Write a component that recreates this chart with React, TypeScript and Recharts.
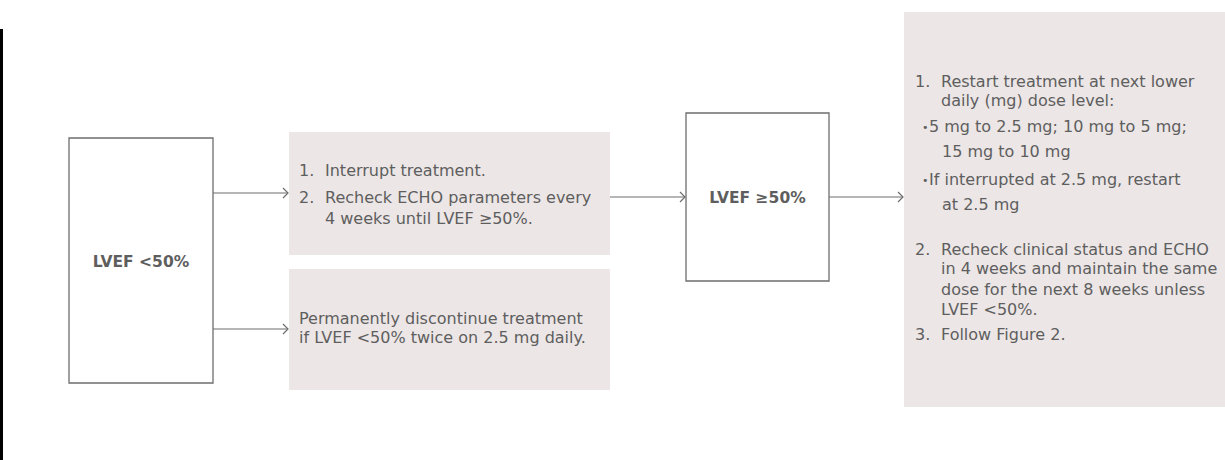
import { ComposedChart, XAxis, YAxis, ReferenceArea, ReferenceLine, Scatter } from 'recharts';

// flowchart content
const startLabel = 'LVEF <50%';
const recoverLabel = 'LVEF ≥50%';

const interruptLines = [
  { kind: 'num', label: '1.', text: 'Interrupt treatment.' },
  { kind: 'num', label: '2.', text: 'Recheck ECHO parameters every' },
  { kind: 'cont', text: '4 weeks until LVEF ≥50%.' },
];

const stopLines = [
  { kind: 'plain', text: 'Permanently discontinue treatment' },
  { kind: 'plain', text: 'if LVEF <50% twice on 2.5 mg daily.' },
];

const restartLines = [
  { kind: 'num', label: '1.', text: 'Restart treatment at next lower' },
  { kind: 'cont', text: 'daily (mg) dose level:' },
  { kind: 'bullet', text: '5 mg to 2.5 mg; 10 mg to 5 mg;' },
  { kind: 'bcont', text: '15 mg to 10 mg' },
  { kind: 'bullet', text: 'If interrupted at 2.5 mg, restart' },
  { kind: 'bcont', text: 'at 2.5 mg' },
  { kind: 'num', label: '2.', text: 'Recheck clinical status and ECHO' },
  { kind: 'cont', text: 'in 4 weeks and maintain the same' },
  { kind: 'cont', text: 'dose for the next 8 weeks unless' },
  { kind: 'cont', text: 'LVEF <50%.' },
  { kind: 'num', label: '3.', text: 'Follow Figure 2.' },
];

// layout (px in a 1225 x 460 frame)
const W = 1225;
const H = 460;
const FONT = '"DejaVu Sans", sans-serif';
const TEXT = '#5e5e5e';
const EDGE = '#6e6e6e';
const FILL = '#ece6e6';

const interruptY = [44, 71, 92];
const stopY = [55, 74];
const restartY = [75, 94, 120, 145, 173, 198, 243, 262, 283, 303, 328];

const nodes = [
  { x: 141, y: 260 },
  { x: 449, y: 193 },
  { x: 449, y: 329 },
  { x: 757, y: 197 },
  { x: 1064, y: 210 },
];

const indent = { num: 0, cont: 26, bullet: 8, bcont: 27, plain: 0 };

function ListText({ viewBox, lines, ys, left }: any) {
  const { x, y } = viewBox;
  return (
    <g fontFamily={FONT} fontSize={16} fill={TEXT}>
      {lines.map((ln: any, i: number) => {
        const bx = x + left;
        const by = y + ys[i];
        if (ln.kind === 'num') {
          return (
            <g key={i}>
              <text x={bx} y={by}>{ln.label}</text>
              <text x={bx + 26} y={by}>{ln.text}</text>
            </g>
          );
        }
        if (ln.kind === 'bullet') {
          return (
            <g key={i}>
              <text x={bx + 7} y={by - 1} fontSize={11}>•</text>
              <text x={bx + 14} y={by}>{ln.text}</text>
            </g>
          );
        }
        return <text key={i} x={bx + (indent as any)[ln.kind]} y={by}>{ln.text}</text>;
      })}
    </g>
  );
}

function CenterText({ viewBox, text }: any) {
  const { x, y, width, height } = viewBox;
  return (
    <text x={x + width / 2} y={y + height / 2 + 6} textAnchor="middle" fontFamily={FONT} fontSize={15.5} fontWeight={600} fill={TEXT}>
      {text}
    </text>
  );
}

function Arrow(props: any) {
  const { x1, y1, x2, y2 } = props;
  return (
    <g stroke={EDGE} strokeWidth={1.2} fill="none">
      <line x1={x1} y1={y1} x2={x2 - 1} y2={y2} />
      <path d={`M${x2 - 6},${y2 - 5} L${x2 - 1},${y2} L${x2 - 6},${y2 + 5}`} />
    </g>
  );
}

export default function App() {
  return (
    <div style={{ position: 'absolute', left: 0, top: 0, width: W, height: H, background: '#fff' }}>
      <ComposedChart width={W} height={H} margin={{ top: 0, right: 0, bottom: 0, left: 0 }}>
        <XAxis type="number" dataKey="x" domain={[0, W]} hide allowDataOverflow />
        <YAxis type="number" dataKey="y" domain={[0, H]} reversed hide allowDataOverflow />

        <ReferenceArea x1={0} x2={3} y1={29} y2={H} fill="#000" fillOpacity={1} stroke="none" ifOverflow="visible" />

        <ReferenceArea x1={69} x2={213} y1={138} y2={383} fill="#fff" fillOpacity={1} stroke={EDGE} strokeWidth={1.3}
          label={(p: any) => <CenterText viewBox={p.viewBox} text={startLabel} />} />

        <ReferenceArea x1={289} x2={610} y1={132} y2={255} fill={FILL} fillOpacity={1} stroke="none"
          label={(p: any) => <ListText viewBox={p.viewBox} lines={interruptLines} ys={interruptY} left={10} />} />

        <ReferenceArea x1={289} x2={610} y1={269} y2={390} fill={FILL} fillOpacity={1} stroke="none"
          label={(p: any) => <ListText viewBox={p.viewBox} lines={stopLines} ys={stopY} left={10} />} />

        <ReferenceArea x1={686} x2={829} y1={113} y2={281} fill="#fff" fillOpacity={1} stroke={EDGE} strokeWidth={1.3}
          label={(p: any) => <CenterText viewBox={p.viewBox} text={recoverLabel} />} />

        <ReferenceArea x1={904} x2={W} y1={12} y2={407} fill={FILL} fillOpacity={1} stroke="none" ifOverflow="visible"
          label={(p: any) => <ListText viewBox={p.viewBox} lines={restartLines} ys={restartY} left={11} />} />

        <ReferenceLine segment={[{ x: 213, y: 193 }, { x: 289, y: 193 }]} shape={Arrow} ifOverflow="visible" />
        <ReferenceLine segment={[{ x: 213, y: 329 }, { x: 289, y: 329 }]} shape={Arrow} ifOverflow="visible" />
        <ReferenceLine segment={[{ x: 610, y: 197 }, { x: 686, y: 197 }]} shape={Arrow} ifOverflow="visible" />
        <ReferenceLine segment={[{ x: 829, y: 197 }, { x: 904, y: 197 }]} shape={Arrow} ifOverflow="visible" />

        <Scatter data={nodes} fill="none" isAnimationActive={false} />
      </ComposedChart>
    </div>
  );
}
